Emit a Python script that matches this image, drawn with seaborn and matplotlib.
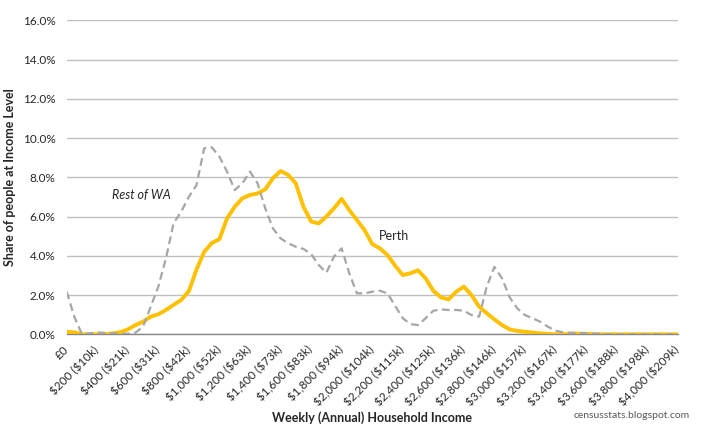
import matplotlib
matplotlib.use("Agg")
import matplotlib.pyplot as plt
import seaborn as sns
import pandas as pd
from matplotlib.ticker import FuncFormatter

# weekly household income, $50 steps from $0 to $4,000
income = list(range(0, 4050, 50))

# share of people at each income level (%)
perth = [0.13, 0.1, 0.0, 0.0, 0.0, 0.0, 0.05, 0.1, 0.25, 0.47,
         0.64, 0.9, 1.02, 1.24, 1.5, 1.75, 2.2, 3.3, 4.2, 4.65,
         4.85, 5.91, 6.5, 6.93, 7.1, 7.18, 7.39, 7.95, 8.32, 8.12,
         7.69, 6.5, 5.75, 5.65, 6.0, 6.42, 6.9, 6.33, 5.82, 5.31,
         4.6, 4.38, 4.04, 3.5, 3.02, 3.11, 3.26, 2.85, 2.22, 1.88,
         1.78, 2.17, 2.43, 2.0, 1.41, 1.07, 0.76, 0.47, 0.25, 0.17,
         0.13, 0.08, 0.05, 0.02, 0.0, 0.0, 0.03, 0.03, 0.03, 0.0,
         0.0, 0.0, 0.0, 0.0, 0.0, 0.0, 0.0, 0.0, 0.0, 0.0, 0.0]
rest_of_wa = [2.17, 0.9, 0.0, 0.05, 0.1, 0.07, 0.05, 0.03, 0.03, 0.08,
              0.39, 1.4, 2.43, 3.87, 5.66, 6.25, 7.01, 7.6, 9.48, 9.53,
              9.05, 8.29, 7.35, 7.69, 8.29, 7.69, 6.42, 5.4, 4.89, 4.64,
              4.46, 4.35, 4.09, 3.53, 3.14, 3.96, 4.38, 3.11, 2.09, 2.09,
              2.17, 2.22, 2.09, 1.45, 0.82, 0.52, 0.47, 0.82, 1.2, 1.27,
              1.24, 1.24, 1.2, 0.98, 0.9, 2.43, 3.44, 2.85, 1.88, 1.32,
              0.98, 0.82, 0.64, 0.39, 0.18, 0.1, 0.08, 0.07, 0.05, 0.04,
              0.02, 0.0, 0.0, 0.0, 0.0, 0.0, 0.0, 0.0, 0.0, 0.0, 0.0]

tick_pos = list(range(0, 4200, 200))
tick_labels = ["£0", "$200 ($10k)", "$400 ($21k)", "$600 ($31k)", "$800 ($42k)",
               "$1,000 ($52k)", "$1,200 ($63k)", "$1,400 ($73k)", "$1,600 ($83k)",
               "$1,800 ($94k)", "$2,000 ($104k)", "$2,200 ($115k)", "$2,400 ($125k)",
               "$2,600 ($136k)", "$2,800 ($146k)", "$3,000 ($157k)", "$3,200 ($167k)",
               "$3,400 ($177k)", "$3,600 ($188k)", "$3,800 ($198k)", "$4,000 ($209k)"]

df = pd.DataFrame({"income": income, "Perth": perth, "Rest of WA": rest_of_wa})

sns.set_style("white")
plt.rcParams["font.family"] = ["Lato", "DejaVu Sans"]
plt.rcParams["text.parse_math"] = False  # keep the $ signs literal

fig = plt.figure(figsize=(7.01, 4.28), dpi=100)
ax = fig.add_axes([0.0951, 0.2189, 0.8717, 0.7337])

sns.lineplot(data=df, x="income", y="Perth", ax=ax, color="#FFC000", linewidth=2.8, zorder=3)
sns.lineplot(data=df, x="income", y="Rest of WA", ax=ax, color="#A6A6A6", linewidth=1.6,
             linestyle=(0, (3.5, 2)), zorder=4)
for ln in ax.lines:
    ln.set_solid_joinstyle("round")
    ln.set_dash_joinstyle("round")

ax.set_xlim(0, 4000)
ax.set_ylim(0, 16)
ax.set_yticks(range(0, 17, 2))
ax.yaxis.set_major_formatter(FuncFormatter(lambda v, p: "%.1f%%" % v))
ax.set_xticks(tick_pos)
ax.set_xticklabels(tick_labels, rotation=45, ha="right", va="center", rotation_mode="anchor")
ax.tick_params(axis="x", length=5, width=1, color="#868686", direction="out", labelsize=8.5, pad=5)
ax.tick_params(axis="y", length=0, labelsize=8.5, pad=8)
ax.grid(axis="y", color="#BFBFBF", linewidth=1)
ax.set_axisbelow(True)
for s in ["top", "right", "left"]:
    ax.spines[s].set_visible(False)
ax.spines["bottom"].set_color("#868686")
ax.spines["bottom"].set_linewidth(1)

ax.set_xlabel("Weekly (Annual) Household Income", fontsize=9, fontweight="bold")
ax.xaxis.set_label_coords(0.5, -0.244)
ax.set_ylabel("Share of people at Income Level", fontsize=9, fontweight="bold")
ax.yaxis.set_label_coords(-0.083, 0.5)

ax.text(490, 7.1, "Rest of WA", fontsize=9, style="italic", ha="center", va="center")
ax.text(2140, 5.0, "Perth", fontsize=9, ha="center", va="center")

fig.text(0.984, 0.03, "censusstats.blogspot.com", fontsize=7.5, color="#595959", ha="right", va="center")

fig.savefig("out.png", dpi=100)
